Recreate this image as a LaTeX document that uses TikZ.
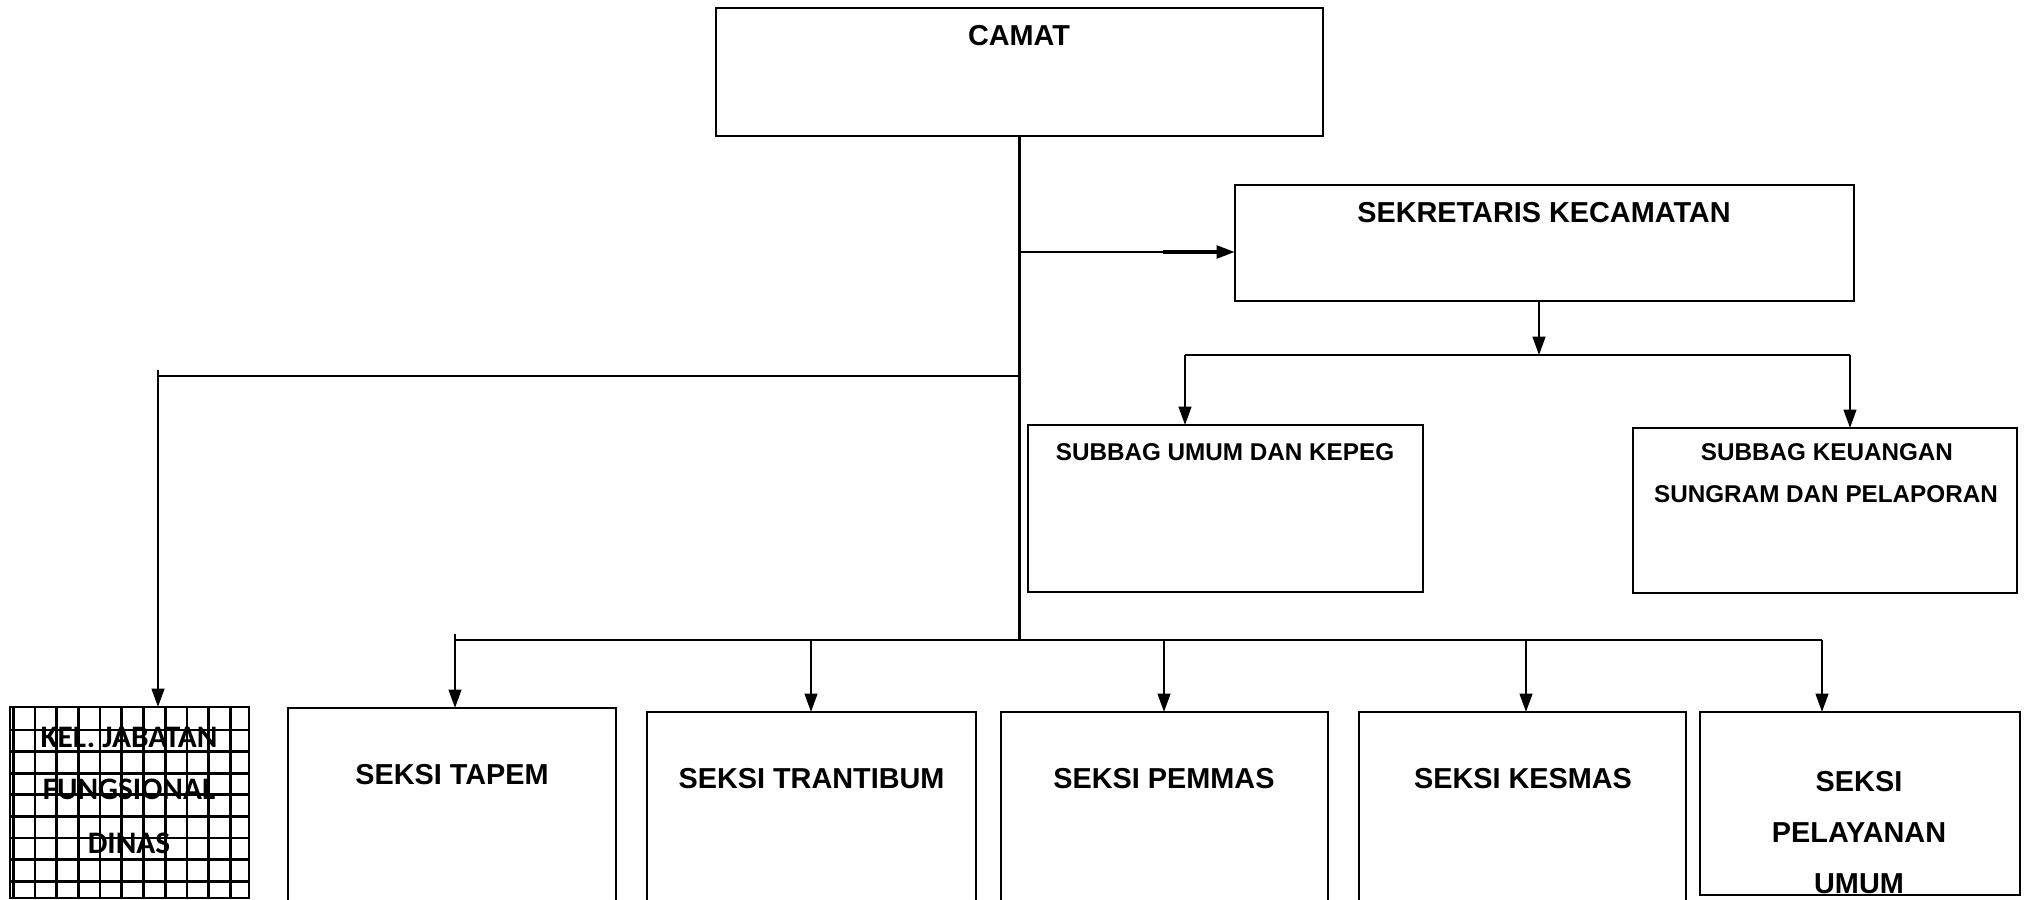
\documentclass[tikz,border=0pt]{standalone}
\usepackage{fontspec}
\setmainfont{Liberation Sans}
\newfontfamily\kelfont{Carlito}
\usetikzlibrary{arrows.meta}
\begin{document}
\begin{tikzpicture}[x=0.01cm,y=-0.01cm,
  box/.style={draw, line width=0.5pt, inner sep=0pt, outer sep=0pt, fill=white},
  conn/.style={draw, line width=0.6pt},
  arr/.style={conn, -{Triangle[length=5.2pt,width=3.6pt]}},
  lbl/.style={font=\bfseries\fontsize{8.2pt}{9pt}\selectfont, inner sep=0pt},
  sub/.style={font=\bfseries\fontsize{6.9pt}{8pt}\selectfont, inner sep=0pt},
  kel/.style={font=\kelfont\bfseries\fontsize{8.9pt}{10pt}\selectfont, inner sep=0pt},
  gridl/.style={line width=0.75pt, black}]
\useasboundingbox (0,0) rectangle (2026,900);
\clip (0,0) rectangle (2026,900);
\fill[white] (0,0) rectangle (2026,900);
% boxes
\node[box, minimum width=6.07cm, minimum height=1.28cm] (camat) at (1019.5,72) {};
\node[box, minimum width=6.19cm, minimum height=1.16cm] (sek) at (1544.5,243) {};
\node[box, minimum width=3.95cm, minimum height=1.67cm] (umum) at (1225.5,508.5) {};
\node[box, minimum width=3.84cm, minimum height=1.65cm] (keu) at (1825,510.5) {};
\node[box, minimum width=2.39cm, minimum height=1.91cm] (kel) at (129.5,802.5) {};
\node[box, minimum width=3.28cm, minimum height=2.32cm] (tapem) at (452,824) {};
\node[box, minimum width=3.29cm, minimum height=2.28cm] (trantibum) at (811.5,826) {};
\node[box, minimum width=3.27cm, minimum height=2.28cm] (pemmas) at (1164.5,826) {};
\node[box, minimum width=3.27cm, minimum height=2.28cm] (kesmas) at (1522.5,826) {};
\node[box, minimum width=3.20cm, minimum height=1.83cm] (pelayanan) at (1860,803.5) {};
% grid in KEL box
\begin{scope}
  \clip (kel.south west) rectangle (kel.north east);
  \foreach \i in {0,...,10} \draw[gridl] ({13.3+21.7*\i},700) -- ++(0,210);
  \foreach \j in {0,...,7} \draw[gridl] (0,{730+21.6*\j}) -- ++(260,0);
\end{scope}
\draw[line width=0.75pt] (kel.south west) rectangle (kel.north east);
% junction coordinates
\coordinate (jSek) at (1019.5,252);
\coordinate (kThick) at (1163,252);
\coordinate (jLeft) at (1019.5,376);
\coordinate (jBot) at (1019.5,640);
\coordinate (jSub) at (1539,355);
\coordinate (subL) at (1185,355);
\coordinate (subR) at (1850,355);
\coordinate (lft) at (158,376);
\coordinate (b1) at (455,640);
\coordinate (b2) at (811,640);
\coordinate (b3) at (1164,640);
\coordinate (b4) at (1526,640);
\coordinate (b5) at (1822,640);
% connectors
\draw[conn] (camat.south) -- (jBot);
\draw[conn] (jSek) -- (kThick);
\draw[arr, line width=1pt] (kThick) -- (jSek -| sek.west);
\draw[arr] (jSub |- sek.south) -- (jSub);
\draw[conn] (subL) -- (subR);
\draw[arr] (subL) -- (subL |- umum.north);
\draw[arr] (subR) -- (subR |- keu.north);
\draw[conn] (jLeft) -- (lft);
\draw[conn] (lft) -- ++(0,-6);
\draw[arr] (lft) -- (lft |- kel.north);
\draw[conn] (b1) -- (b5);
\draw[conn] (b1) -- ++(0,-6);
\draw[arr] (b1) -- (b1 |- tapem.north);
\draw[arr] (b2) -- (b2 |- trantibum.north);
\draw[arr] (b3) -- (b3 |- pemmas.north);
\draw[arr] (b4) -- (b4 |- kesmas.north);
\draw[arr] (b5) -- (b5 |- pelayanan.north);
% texts
\node[lbl] (tcamat) at (1019,36) {CAMAT};
\node[lbl] (tsek) at (1544,213) {SEKRETARIS KECAMATAN};
\node[sub] (tumum) at (1225,452) {SUBBAG UMUM DAN KEPEG};
\node[sub] (tkeu1) at (1827,452) {SUBBAG KEUANGAN};
\node[sub] (tkeu2) at (1826,494) {SUNGRAM DAN PELAPORAN};
\node[kel] (tkel1) at (129,737) {KEL. JABATAN};
\node[kel] (tkel2) at (129,789) {FUNGSIONAL};
\node[kel] (tkel3) at (129,843) {DINAS};
\node[lbl] (ttapem) at (452,775) {SEKSI TAPEM};
\node[lbl] (ttran) at (811.5,779) {SEKSI TRANTIBUM};
\node[lbl] (tpem) at (1164,779) {SEKSI PEMMAS};
\node[lbl] (tkes) at (1523,779) {SEKSI KESMAS};
\node[lbl] (tpel1) at (1859,782) {SEKSI};
\node[lbl] (tpel2) at (1859,833) {PELAYANAN};
\node[lbl] (tpel3) at (1859,884) {UMUM};
\end{tikzpicture}
\end{document}
